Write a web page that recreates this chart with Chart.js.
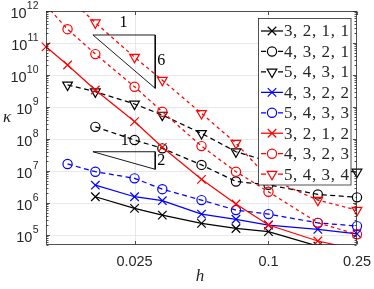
<!DOCTYPE html>
<html><head><meta charset="utf-8">
<script src="https://cdn.jsdelivr.net/npm/chart.js@4"></script>
<style>html,body{margin:0;padding:0;background:#fff}canvas{display:block}</style>
</head><body>
<canvas id="c" width="374" height="289" style="width:374px;height:289px"></canvas>
<script>
// ---- data ----
const hValues = [0.01, 0.0125, 1/60, 0.025, 1/30, 0.05, 1/14, 0.1, 1/6, 0.25];
const seriesLabels = ['3, 2, 1, 1','4, 3, 2, 1','5, 4, 3, 1','4, 3, 2, 2','5, 4, 3, 3','3, 2, 1, 2','4, 3, 2, 3','5, 4, 3, 4'];
const kappa3211 = [null, null, 1.57e6, 6.8e5, 4.2e5, 2.3e5, 1.6e5, 1.27e5, 4.5e4, 3.0e4];
const kappa4321 = [null, null, 2.4e8, 9.3e7, 5.1e7, 1.55e7, 4.7e6, 3.7e6, 1.86e6, 1.5e6];
const kappa5431 = [null, 4.9e9, 3.0e9, 1.24e9, 5.6e8, 1.5e8, 4.0e7, 2.0e7, 1.2e7, 9.3e6];
const kappa4322 = [null, null, 3.6e6, 1.57e6, 1.18e6, 4.5e5, 3.1e5, 2.05e5, 1.5e5, 1.08e5];
const kappa5433 = [null, 1.66e7, 9.5e6, 5.9e6, 2.7e6, 1.23e6, 6.0e5, 4.5e5, 2.4e5, 1.9e5];
const kappa3212 = [7.6e10, 2.05e10, 3.4e9, 3.5e8, 5.5e7, 5.5e6, 9.3e5, 2.05e5, 6.5e4, 3.5e4];
const kappa4323 = [1.5e12, 2.7e11, 4.5e10, 4.3e9, 7.1e8, 6.0e7, 9.5e6, 2.25e6, 2.4e5, 1.05e5];
const kappa5434 = [null, 2.8e12, 4.3e11, 3.6e10, 6.9e9, 6.3e8, 7.4e7, 6.0e6, 1.23e6, 6.0e5];
const xTickValues = [0.025, 0.1, 0.25];
const xTickLabels = ['0.025', '0.1', '0.25'];
const yTickExponents = [5, 6, 7, 8, 9, 10, 11, 12];
// slope triangles (h, kappa)
const slope6H = [0.01626, 0.03097, 0.03097, 0.01626];
const slope6K = [1.78e11, 1.78e11, 3.84e9, 1.78e11];
const slope2H = [0.01626, 0.03097, 0.03097, 0.01626];
const slope2K = [4.0e7, 4.0e7, 1.13e7, 4.0e7];
const slopeLabels = [
  {t:'1', h:0.02233, k:4.3e11},
  {t:'6', h:0.0330, k:2.7e10},
  {t:'1', h:0.0226, k:8.7e7},
  {t:'2', h:0.0330, k:2.1e7}
];
const X_MIN = 0.01, X_MAX = 0.25, Y_MIN = 4.87e4, Y_MAX = 1e12;

const seriesData = [kappa3211,kappa4321,kappa5431,kappa4322,kappa5433,kappa3212,kappa4323,kappa5434];
const colors = ['#000000','#000000','#000000','#0000ff','#0000ff','#ff0000','#ff0000','#ff0000'];
const markers = ['crossRot','circle','triangle','crossRot','circle','crossRot','circle','triangle'];
const dashes = [[],[5,3.5],[5,3.5],[],[5,3.5],[],[3.4,3.2],[3.4,3.2]];

function pts(arr){ return hValues.map((h,i)=>arr[i]==null?null:{x:h,y:arr[i]}).filter(Boolean); }
function radiusFor(m){ return m==='crossRot'?6:(m==='circle'?4.6:5.6); }

const datasets = seriesData.map((arr,i)=>({
  label: seriesLabels[i],
  data: pts(arr),
  borderColor: colors[i],
  backgroundColor: 'rgba(0,0,0,0)',
  borderWidth: 1.25,
  borderDash: dashes[i],
  pointStyle: markers[i],
  pointRotation: markers[i]==='triangle'?180:0,
  pointRadius: radiusFor(markers[i]),
  pointBorderWidth: 1.2,
  pointBorderColor: colors[i],
  pointBackgroundColor: 'rgba(0,0,0,0)',
  tension: 0,
  fill: false,
  order: -i,
  clip: {left: 10, top: 0, right: 10, bottom: 0}
}));
[[slope6H,slope6K],[slope2H,slope2K]].forEach(([hs,ks])=>{
  datasets.push({
    label: '', data: hs.map((h,i)=>({x:h,y:ks[i]})),
    borderColor:'#000', borderWidth:0.9, pointRadius:0, tension:0, fill:false, order:-20,
    clip:0
  });
});

const overlay = {
  id:'overlay',
  beforeDatasetsDraw(chart){
    const {ctx, chartArea:a, scales:{x,y}} = chart;
    ctx.save();
    ctx.strokeStyle = '#e2e2e2'; ctx.lineWidth = 0.8;
    for (const e of yTickExponents){
      const py = Math.round(y.getPixelForValue(Math.pow(10,e)))+0.5;
      if (py < a.top+1 || py > a.bottom-1) continue;
      ctx.beginPath(); ctx.moveTo(a.left,py); ctx.lineTo(a.right,py); ctx.stroke();
    }
    for (const v of xTickValues){
      const px = Math.round(x.getPixelForValue(v))+0.5;
      if (px > a.right-1) continue;
      ctx.beginPath(); ctx.moveTo(px,a.top); ctx.lineTo(px,a.bottom); ctx.stroke();
    }
    ctx.restore();
  },
  afterDatasetsDraw(chart){
    const {ctx, chartArea:a, scales:{x,y}} = chart;
    ctx.save();
    const L = Math.round(a.left)+0.5, R = Math.round(a.right)-0.5, T = Math.round(a.top)+0.5, B = Math.round(a.bottom)-0.5;
    ctx.strokeStyle = '#262626'; ctx.lineWidth = 0.8;
    ctx.strokeRect(L, T, R-L, B-T);
    // y ticks
    ctx.beginPath();
    for (let e=4; e<=12; e++){
      for (let m=1; m<=9; m++){
        const v = m*Math.pow(10,e);
        if (v < Y_MIN || v > Y_MAX) continue;
        const py = Math.round(y.getPixelForValue(v))+0.5;
        const len = m===1?3.5:2;
        ctx.moveTo(L,py); ctx.lineTo(L+len,py);
        ctx.moveTo(R,py); ctx.lineTo(R-len,py);
      }
    }
    for (const v of xTickValues){
      const px = Math.round(x.getPixelForValue(v))+0.5;
      ctx.moveTo(px,B); ctx.lineTo(px,B-3.5);
      ctx.moveTo(px,T); ctx.lineTo(px,T+3.5);
    }
    ctx.stroke();
    // y tick labels
    ctx.fillStyle = '#262626';
    ctx.textBaseline = 'middle';
    for (const e of yTickExponents){
      const py = y.getPixelForValue(Math.pow(10,e));
      ctx.font = '10.5px "Liberation Sans", Arial, sans-serif';
      const es = String(e);
      const ew = ctx.measureText(es).width;
      ctx.textAlign = 'right';
      ctx.fillText(es, 38.5, py-5);
      ctx.font = '14.5px "Liberation Sans", Arial, sans-serif';
      ctx.fillText('10', 38.5-ew-0.3, py+2.5);
    }
    // x tick labels
    ctx.font = '14.5px "Liberation Sans", Arial, sans-serif';
    ctx.textAlign = 'center';
    xTickValues.forEach((v,i)=>{
      ctx.fillText(xTickLabels[i], x.getPixelForValue(v), 262);
    });
    // axis labels
    ctx.fillStyle = '#262626';
    ctx.font = 'italic 17px "Liberation Serif", "Times New Roman", serif';
    ctx.fillText('h', 200, 277);
    ctx.fillText('\u03BA', 7, 118);
    // slope labels
    ctx.fillStyle = '#000';
    ctx.font = '16px "Liberation Serif", "Times New Roman", serif';
    for (const s of slopeLabels){
      ctx.fillText(s.t, x.getPixelForValue(s.h), y.getPixelForValue(s.k));
    }
    ctx.restore();
  },
  afterDraw(chart){
    const {ctx} = chart;
    ctx.save();
    const bx=258.5, by=18.5, bw=92.5, bh=166.5;
    ctx.fillStyle='#fff'; ctx.fillRect(bx,by,bw,bh);
    ctx.strokeStyle='#262626'; ctx.lineWidth=0.8; ctx.strokeRect(bx,by,bw,bh);
    seriesLabels.forEach((lab,i)=>{
      const yy = 31 + i*20.45;
      ctx.save();
      ctx.strokeStyle = colors[i]; ctx.lineWidth = 1.25;
      ctx.beginPath();
      if (dashes[i].length){
        ctx.moveTo(261,yy); ctx.lineTo(266,yy);
        ctx.moveTo(278,yy); ctx.lineTo(283,yy);
      } else {
        ctx.moveTo(261,yy); ctx.lineTo(283,yy);
      }
      ctx.stroke();
      ctx.lineWidth = 1.2;
      ctx.fillStyle = 'rgba(0,0,0,0)';
      Chart.helpers.drawPoint(ctx, {pointStyle: markers[i], radius: radiusFor(markers[i]), rotation: markers[i]==='triangle'?180:0, borderWidth:1.2}, 272, yy);
      ctx.restore();
      ctx.fillStyle = '#262626';
      ctx.font = '17px "Liberation Serif", "Times New Roman", serif';
      try { ctx.letterSpacing = '0.6px'; } catch(e){}
      ctx.textAlign='left'; ctx.textBaseline='middle';
      ctx.fillText(lab, 284, yy+1);
      try { ctx.letterSpacing = '0px'; } catch(e){}
    });
    ctx.restore();
  }
};

new Chart(document.getElementById('c'), {
  type: 'line',
  data: { datasets },
  options: {
    responsive: false, animation: false, devicePixelRatio: 1,
    layout: { padding: { left: 46, right: 17, top: 11, bottom: 44 } },
    plugins: { legend: { display: false }, tooltip: { enabled: false } },
    scales: {
      x: { type: 'logarithmic', min: X_MIN, max: X_MAX, display: false },
      y: { type: 'logarithmic', min: Y_MIN, max: Y_MAX, display: false }
    }
  },
  plugins: [overlay]
});
</script>
</body></html>
